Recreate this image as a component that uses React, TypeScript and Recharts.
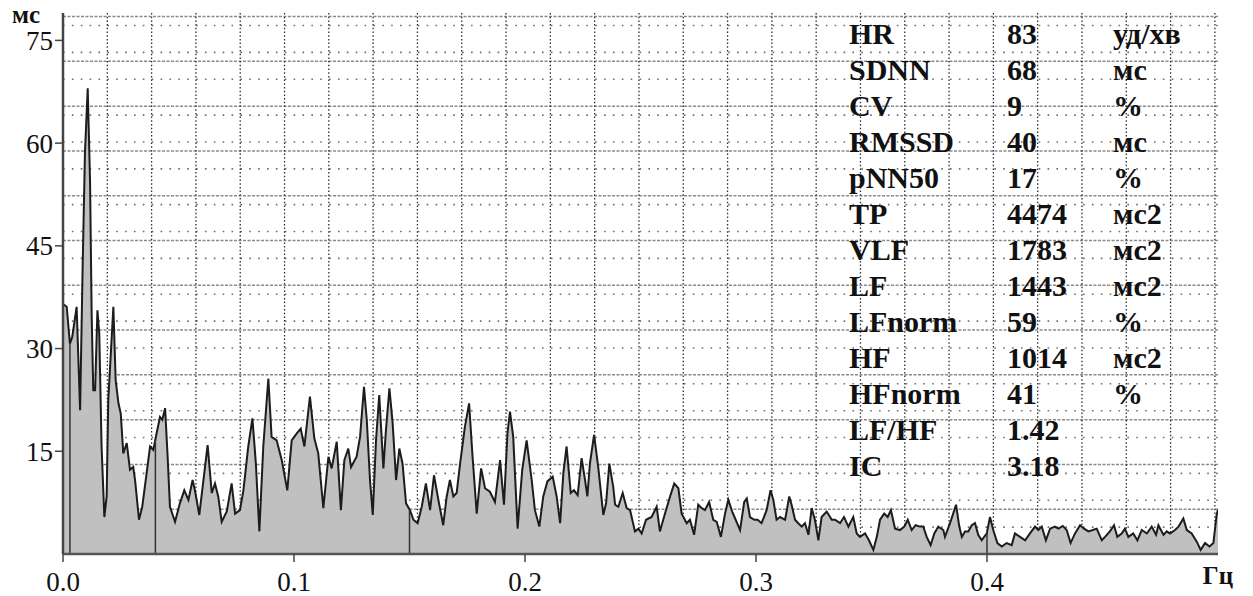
import React from "react";
import {
  ComposedChart,
  Area,
  XAxis,
  YAxis,
  CartesianGrid,
  ReferenceLine,
} from "recharts";

// Frequency (Hz) of each sample of the spectrum
const freqs: number[] = [
  0, 0.0016, 0.003, 0.004, 0.0059, 0.0074, 0.0085, 0.0095, 0.0107, 0.0117,
  0.0124, 0.0131, 0.0139, 0.0149, 0.0157, 0.0167, 0.0179, 0.0189, 0.0196, 0.0203,
  0.0218, 0.0228, 0.024, 0.025, 0.0261, 0.0276, 0.029, 0.0304, 0.0312, 0.0329,
  0.0343, 0.0362, 0.0377, 0.0391, 0.0405, 0.042, 0.043, 0.0442, 0.0453, 0.0463,
  0.0485, 0.0506, 0.0525, 0.0543, 0.0561, 0.0571, 0.059, 0.0608, 0.0626, 0.0644,
  0.0658, 0.0672, 0.0687, 0.0709, 0.073, 0.0745, 0.0766, 0.0781, 0.0802, 0.082,
  0.0835, 0.085, 0.0867, 0.0889, 0.0903, 0.0925, 0.0947, 0.0971, 0.099, 0.1012,
  0.1029, 0.1045, 0.1069, 0.1088, 0.1105, 0.1127, 0.1149, 0.1163, 0.1185, 0.1203,
  0.1218, 0.1235, 0.1247,
  0.1271, 0.1286, 0.1303, 0.1315, 0.1329, 0.1341, 0.1355, 0.1369, 0.1387, 0.1398,
  0.1413, 0.1427, 0.1442, 0.1456, 0.147, 0.1485, 0.1502, 0.1517, 0.1535, 0.1553,
  0.1571, 0.1589, 0.1606, 0.1625, 0.1646, 0.1661, 0.1675, 0.169, 0.1704, 0.1719,
  0.174, 0.1758, 0.1773, 0.1791, 0.181, 0.1827, 0.1848, 0.187, 0.1892, 0.1909,
  0.1924, 0.1935, 0.1949, 0.1968, 0.1988, 0.2007, 0.2029, 0.2043, 0.2062, 0.2079,
  0.2097, 0.212, 0.2137, 0.2152, 0.2166, 0.218, 0.2198, 0.2212, 0.2228, 0.2245,
  0.226, 0.227, 0.2281, 0.2299, 0.2317, 0.2339, 0.2351, 0.2365, 0.2382, 0.239,
  0.2404, 0.2423, 0.244, 0.2455, 0.2476, 0.2491, 0.2505, 0.2524,
  0.2548, 0.257, 0.2584, 0.2606, 0.2628, 0.2646, 0.2664, 0.2678, 0.27, 0.2714,
  0.2732, 0.275, 0.2765, 0.2779, 0.2797, 0.2815, 0.283, 0.2848, 0.2866, 0.288,
  0.2897, 0.2912, 0.2931, 0.2949, 0.296, 0.2974, 0.2993, 0.3007, 0.3024, 0.3046,
  0.3063, 0.3075, 0.3089, 0.3104, 0.3126, 0.3144, 0.3154, 0.3169, 0.3183, 0.3198,
  0.3212, 0.3227, 0.3241, 0.3255, 0.327, 0.3284, 0.3306, 0.3328, 0.3342, 0.3364,
  0.3381, 0.34, 0.3421, 0.3436, 0.345, 0.3472, 0.3489, 0.3508, 0.3523, 0.3537,
  0.3555, 0.357, 0.3584, 0.3602, 0.3623, 0.3642, 0.3657, 0.3674, 0.3691, 0.371,
  0.3724, 0.3739, 0.3756, 0.3772, 0.3789, 0.3811,
  0.3818, 0.384, 0.3866, 0.388, 0.3891, 0.3905, 0.3919, 0.3934, 0.3948, 0.3962,
  0.3977, 0.3999, 0.4013, 0.4027, 0.4045, 0.4064, 0.4085, 0.4107, 0.4121, 0.4143,
  0.4165, 0.4186, 0.4208, 0.4222, 0.4237, 0.4255, 0.4273, 0.4294, 0.4309, 0.4328,
  0.4345, 0.4362, 0.4381, 0.4403, 0.442, 0.4439, 0.4458, 0.4475, 0.4497, 0.4511,
  0.4532, 0.455, 0.4564, 0.4583, 0.4597, 0.4612, 0.4633, 0.4651, 0.467, 0.4692,
  0.4713, 0.4732, 0.4742, 0.4764, 0.4778, 0.4792, 0.4814, 0.4829, 0.485, 0.4865,
  0.4886, 0.4908, 0.4925, 0.4944, 0.4963, 0.498, 0.4994, 0.5,
];

// Spectral amplitude (мс) at each frequency
const psd: number[] = [
  36.5, 36.1, 30.7, 31.7, 36.1, 21.0, 41.9, 58.5, 68.0, 54.6,
  35.1, 23.9, 23.9, 35.6, 32.2, 15.7, 5.4, 8.4, 22.5, 26.8,
  36.1, 25.4, 22.0, 20.5, 14.7, 16.2, 12.3, 12.7, 10.8, 5.0,
  6.9, 11.8, 15.7, 15.2, 17.6, 20.0, 19.6, 21.3, 14.2, 6.9,
  4.7, 7.4, 9.3, 7.9, 10.8, 9.3, 5.7, 10.8, 15.9, 8.9,
  10.3, 8.4, 4.7, 6.2, 10.3, 5.9, 6.4, 9.3, 15.7, 19.8,
  13.2, 3.3, 15.7, 25.6, 17.1, 16.6, 13.7, 9.3, 16.6, 17.6,
  18.3, 15.7, 23.0, 16.9, 14.7, 6.7, 14.2, 12.5, 16.4, 6.4,
  13.7, 15.4, 12.7,
  14.2, 17.1, 24.4, 19.6, 10.8, 5.7, 16.6, 23.2, 12.5, 18.1,
  24.2, 19.1, 10.8, 15.4, 13.2, 7.4, 6.4, 5.0, 4.5, 6.9,
  10.3, 6.4, 11.5, 7.9, 4.2, 8.4, 10.8, 8.4, 8.9, 13.2,
  18.6, 22.0, 14.2, 5.9, 12.5, 9.6, 9.1, 7.6, 13.7, 7.2,
  17.6, 20.8, 17.1, 3.7, 12.3, 16.6, 10.8, 6.4, 4.0, 8.4,
  10.6, 11.3, 8.4, 4.5, 11.8, 15.7, 8.9, 9.3, 8.6, 14.0,
  10.8, 8.4, 13.2, 17.4, 12.7, 5.7, 7.4, 13.2, 9.8, 7.2,
  6.9, 8.9, 6.7, 6.4, 3.3, 3.7, 3.0, 5.0,
  5.4, 6.9, 3.3, 5.9, 8.4, 10.3, 9.6, 5.9, 4.5, 5.0,
  2.8, 7.2, 6.7, 6.4, 7.6, 5.0, 4.7, 2.5, 5.9, 7.9,
  6.2, 5.0, 3.5, 7.6, 8.1, 5.4, 5.0, 5.0, 4.5, 6.4,
  9.3, 7.9, 5.0, 5.4, 5.0, 8.4, 7.2, 5.0, 4.5, 4.0,
  4.5, 2.8, 6.7, 5.0, 2.0, 5.4, 6.2, 5.0, 5.0, 4.5,
  5.4, 4.0, 5.4, 3.0, 2.5, 3.0, 2.0, 0.6, 2.5, 5.0,
  5.9, 5.4, 6.4, 3.7, 3.5, 4.0, 5.0, 3.5, 4.2, 4.0,
  4.0, 2.5, 1.3, 3.0, 4.0, 3.5,
  2.5, 4.5, 7.2, 4.0, 2.5, 3.3, 3.3, 4.2, 4.5, 2.8,
  2.0, 3.0, 5.4, 3.5, 1.6, 1.1, 1.6, 1.3, 3.0, 2.5,
  2.0, 3.0, 4.0, 3.5, 4.0, 2.0, 3.7, 4.0, 3.7, 4.1,
  3.5, 1.6, 3.0, 4.2, 3.7, 3.3, 3.5, 3.7, 2.0, 2.5,
  3.3, 4.2, 2.5, 3.0, 3.7, 2.5, 3.0, 2.0, 3.5, 3.0,
  4.0, 2.8, 4.2, 2.8, 3.3, 3.0, 3.5, 4.0, 5.2, 3.5,
  3.0, 1.8, 0.6, 1.6, 1.1, 1.6, 5.7, 6.5,
];

// Axis ticks
const xTicks: number[] = [0, 0.1, 0.2, 0.3, 0.4];
const yTicks: number[] = [15, 30, 45, 60, 75];

// Band boundaries (Hz): ULF/VLF, VLF/LF, LF/HF, HF end
const bandEdges: number[] = [0.003, 0.04, 0.15, 0.4];

// Table of indices
const paramNames: string[] = [
  "HR", "SDNN", "CV", "RMSSD", "pNN50", "TP", "VLF", "LF", "LFnorm", "HF", "HFnorm", "LF/HF", "IC",
];
const paramValues: string[] = [
  "83", "68", "9", "40", "17", "4474", "1783", "1443", "59", "1014", "41", "1.42", "3.18",
];
const paramUnits: string[] = [
  "уд/хв", "мс", "%", "мс", "%", "мс2", "мс2", "мс2", "%", "мс2", "%", "", "",
];

const data = freqs
  .slice(0, Math.min(freqs.length, psd.length))
  .map((f, i) => ({ f, v: psd[i] }));

const valueAt = (x: number): number => {
  for (let i = 1; i < data.length; i++) {
    if (data[i].f >= x) {
      const a = data[i - 1];
      const b = data[i];
      const t = (x - a.f) / (b.f - a.f || 1);
      return a.v + t * (b.v - a.v);
    }
  }
  return data[data.length - 1].v;
};

// Background paper grid (purely decorative), expressed in axis units
const X_MAX = 0.5;
const Y_MAX = 79;
const gridStepX = X_MAX / 26.07;
const gridStepY = 6.54;
const gridMajorX = Array.from({ length: 27 }, (_, k) => +(k * gridStepX).toFixed(5)).filter(
  (v) => v > 0 && v <= X_MAX
);
const gridMajorY = Array.from({ length: 13 }, (_, k) => +(k * gridStepY).toFixed(4)).filter(
  (v) => v > 0 && v <= Y_MAX
);
const gridMinorY = Array.from({ length: 61 }, (_, k) => k)
  .filter((k) => k % 5 !== 0)
  .map((k) => +((k * gridStepY) / 5).toFixed(4))
  .filter((v) => v <= Y_MAX);

const SERIF = '"Liberation Serif", "Times New Roman", Times, serif';

export default function App() {
  return (
    <div style={{ position: "relative", width: 1253, height: 596, background: "#fff" }}>
      <style>{`body{margin:0;background:#fff}
.recharts-cartesian-axis-tick-value, .recharts-cartesian-axis-tick text { font-family: "Liberation Serif", "Times New Roman", serif; }`}</style>
      <ComposedChart
        width={1253}
        height={596}
        data={data}
        margin={{ top: 13, right: 35, bottom: 0, left: 0 }}
      >
        <CartesianGrid
          vertical={false}
          horizontalValues={gridMinorY}
          stroke="#6f6f6f"
          strokeWidth={1.6}
          strokeDasharray="1.6 7.27"
        />
        <CartesianGrid
          vertical={false}
          horizontalValues={gridMajorY}
          stroke="#8a8a8a"
          strokeWidth={1.5}
          strokeDasharray="3 1.5"
        />
        <CartesianGrid
          horizontal={false}
          verticalValues={gridMajorX}
          stroke="#2e2e2e"
          strokeWidth={1.3}
          strokeDasharray="1.5 2.2"
        />
        <XAxis
          dataKey="f"
          type="number"
          domain={[0, X_MAX]}
          ticks={xTicks}
          allowDataOverflow
          tickFormatter={(v: number) => v.toFixed(1)}
          height={42}
          tickSize={8}
          tickMargin={10}
          axisLine={{ stroke: "#555", strokeWidth: 2.5 }}
          tickLine={{ stroke: "#444", strokeWidth: 1.5 }}
          tick={{ fontFamily: SERIF, fontSize: 27, fill: "#111" }}
        />
        <YAxis
          type="number"
          domain={[0, Y_MAX]}
          ticks={yTicks}
          allowDataOverflow
          width={63}
          tickSize={8}
          tickMargin={2}
          axisLine={{ stroke: "#444", strokeWidth: 2.5 }}
          tickLine={{ stroke: "#444", strokeWidth: 1.5 }}
          tick={{ fontFamily: SERIF, fontSize: 27, fill: "#111" }}
        />
        <Area
          type="linear"
          dataKey="v"
          baseValue={0}
          stroke="#1c1c1c"
          strokeWidth={2}
          fill="#c0c0c0"
          fillOpacity={1}
          dot={false}
          activeDot={false}
          isAnimationActive={false}
        />
        {bandEdges.map((e) => (
          <ReferenceLine
            key={e}
            segment={[
              { x: e, y: 0 },
              { x: e, y: valueAt(e) },
            ]}
            stroke="#333"
            strokeWidth={1.5}
            ifOverflow="visible"
          />
        ))}
      </ComposedChart>
      <svg
        width={1253}
        height={596}
        style={{ position: "absolute", left: 0, top: 0, pointerEvents: "none" }}
      >
        <text x={12} y={23} fontFamily={SERIF} fontWeight="bold" fontSize={25} fill="#111">
          мс
        </text>
        <text
          x={1218}
          y={584}
          textAnchor="middle"
          fontFamily={SERIF}
          fontWeight="bold"
          fontSize={25}
          fill="#111"
        >
          Гц
        </text>
        {paramNames.map((name, i) => (
          <g key={name} fontFamily={SERIF} fontWeight="bold" fontSize={30} fill="#111">
            <text x={849} y={44 + 36 * i}>
              {name}
            </text>
            <text x={1007} y={44 + 36 * i}>
              {paramValues[i]}
            </text>
            {paramUnits[i] ? (
              <text x={1113} y={44 + 36 * i}>
                {paramUnits[i]}
              </text>
            ) : null}
          </g>
        ))}
      </svg>
    </div>
  );
}
